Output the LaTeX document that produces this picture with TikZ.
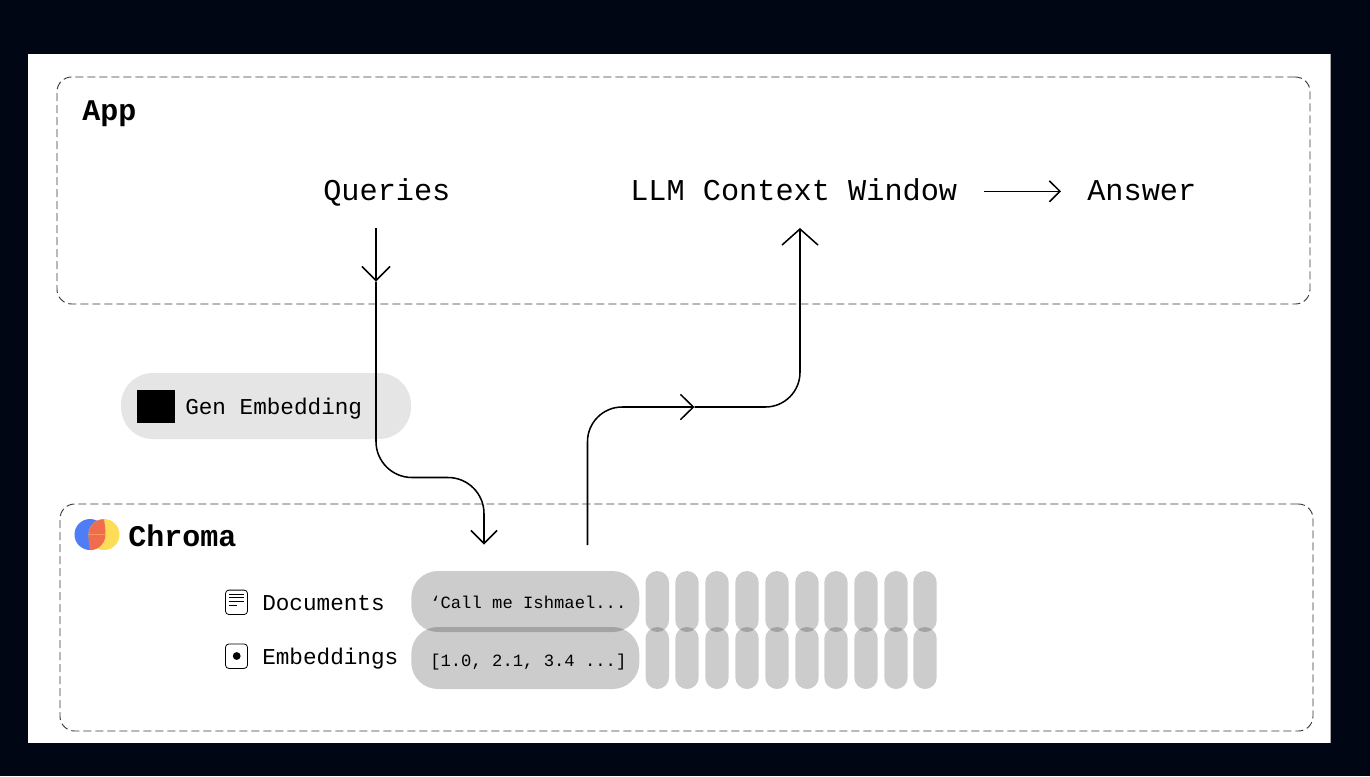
\documentclass[tikz,border=0pt]{standalone}
\usepackage{fontspec}
\setmainfont{Liberation Mono}
\usetikzlibrary{arrows.meta,calc}
\definecolor{bgdark}{HTML}{000614}
\definecolor{genpill}{HTML}{E5E5E5}
\definecolor{dashgray}{HTML}{3A3A3A}
\definecolor{logoblue}{HTML}{4F7DF5}
\definecolor{logoyellow}{HTML}{FDDD58}
\definecolor{logoorange}{HTML}{F16C4E}
\definecolor{logoline}{HTML}{F79A55}
\tikzset{
  x=0.75pt,y=-0.75pt,
  zone/.style={draw=dashgray,line width=0.7pt,dash pattern=on 6pt off 3pt,rounded corners=11pt,inner sep=0pt,minimum width=939.75pt,minimum height=170.25pt},
  biglabel/.style={anchor=base west,inner sep=0pt,font=\fontsize{22.7}{27}\selectfont},
  boldlabel/.style={biglabel,font=\fontsize{22.5}{27}\selectfont\bfseries},
  midlabel/.style={anchor=base west,inner sep=0pt,font=\fontsize{17}{20}\selectfont},
  celltext/.style={anchor=base west,inner sep=0pt,font=\fontsize{12.9}{16}\selectfont},
  line/.style={draw=black,line width=1.15pt},
  barb/.style 2 args={line,-{Straight Barb[length=#1,width=#2,line width=1.15pt]}},
  bar/.style={fill=black,fill opacity=.2,inner sep=0pt},
  bigbar/.style={bar,rounded corners=20pt,minimum width=171pt},
  slimbar/.style={bar,rounded corners=8.8pt,minimum width=17.6pt},
  icon/.style={draw=black,line width=0.6pt,rounded corners=2.5pt,inner sep=0pt,minimum width=16.5pt,minimum height=18.3pt},
}
\begin{document}
\begin{tikzpicture}
\useasboundingbox (0,0) rectangle (1370,776);
\fill[bgdark] (0,0) rectangle (1370,776);
\fill[white] (28,54) rectangle (1331,743);
\fill[gray!70] (1330,54) rectangle (1331,743);

\node[zone] (appzone) at (683.5,190.5) {};
\node[zone] (chromazone) at (686.5,617.5) {};

\node[boldlabel] (app) at (82,120.5) {App};
\node[biglabel] (queries) at (323,200.3) {Queries};
\node[biglabel] (llm) at (630,200.3) {LLM Context Window};
\node[biglabel] (answer) at (1087,200.3) {Answer};

\node[fill=genpill,rounded corners=24pt,minimum width=217.5pt,minimum height=49.5pt,inner sep=0pt] (genpill) at (266,406) {};
\node[fill=black,inner sep=0pt,minimum width=28.5pt,minimum height=24.75pt] (gensq) at (156,406.5) {};
\node[midlabel] (gentext) at (185,414.5) {Gen Embedding};

% logo
\fill[logoblue] (90,534.5) circle[radius=15.5];
\fill[logoyellow] (104,534.5) circle[radius=15.5];
\fill[logoorange] (104,519.2) .. controls (95,519.2) and (88.5,526) .. (88.5,535)
  .. controls (88.5,541) and (89,546) .. (90,550)
  .. controls (99,550) and (105.5,543) .. (105.5,534.5)
  .. controls (105.5,528) and (104.5,523) .. (104,519.2) -- cycle;
\draw[logoline,line width=0.5pt] (88.7,534.5) -- (105.3,534.5);
\node[boldlabel] (chroma) at (128,546.3) {Chroma};

% rows
\node[midlabel] (documents) at (262,610) {Documents};
\node[midlabel] (embeddings) at (262,664.5) {Embeddings};
\node[icon] (docicon) at (236.5,602.3) {};
\foreach \yy/\xe in {594/244,597.5/244,601/244,605.3/237}
  \draw[line width=0.5pt] (228.5,\yy) -- (\xe,\yy);
\node[icon] (embicon) at (236.5,656.2) {};
\fill[black] (236.7,656) circle[radius=3.9];

\node[bigbar,minimum height=45.75pt] (doccell) at (525.3,601.5) {};
\node[bigbar,minimum height=46.5pt] (embcell) at (525.3,658) {};
\node[celltext] (doctext) at (430,608.5) {‘Call me Ishmael...};
\node[celltext] (embtext) at (430,666) {[1.0, 2.1, 3.4 ...]};
\foreach \i/\cx in {1/657.3,2/687,3/717,4/747,5/777,6/807,7/836,8/866,9/896,10/925}{
  \node[slimbar,minimum height=45.75pt] (dtop\i) at (\cx,601.5) {};
  \node[slimbar,minimum height=46.5pt] (dbot\i) at (\cx,658) {};
}

% connectors
\coordinate (qstart) at (376,228);
\coordinate (qmid) at (376,281.5);
\coordinate (qend) at (484,544.5);
\coordinate (rstart) at (587.5,545);
\coordinate (rmid) at (694.5,407);
\coordinate (rend) at (800,228);

\draw[barb={10.5pt}{21pt}] (qstart) -- (qmid);
\draw[line,rounded corners=27pt] (qmid) -- (376,477.5) -- (484,477.5) -- (484,520);
\draw[barb={9.75pt}{19.5pt}] (484,520) -- (qend);

\draw[line,rounded corners=26pt] (rstart) -- (587.5,407) -- (640,407);
\draw[barb={9.75pt}{19pt}] (640,407) -- (rmid);
\draw[line,rounded corners=26pt] (rmid) -- (800,407) -- (800,300);
\draw[barb={12pt}{27pt}] (800,300) -- (rend);

\draw[barb={7.9pt}{15.7pt}] ($(llm.base east)+(27,-9)$) -- ($(answer.base west)+(-26,-9)$);
\end{tikzpicture}
\end{document}
